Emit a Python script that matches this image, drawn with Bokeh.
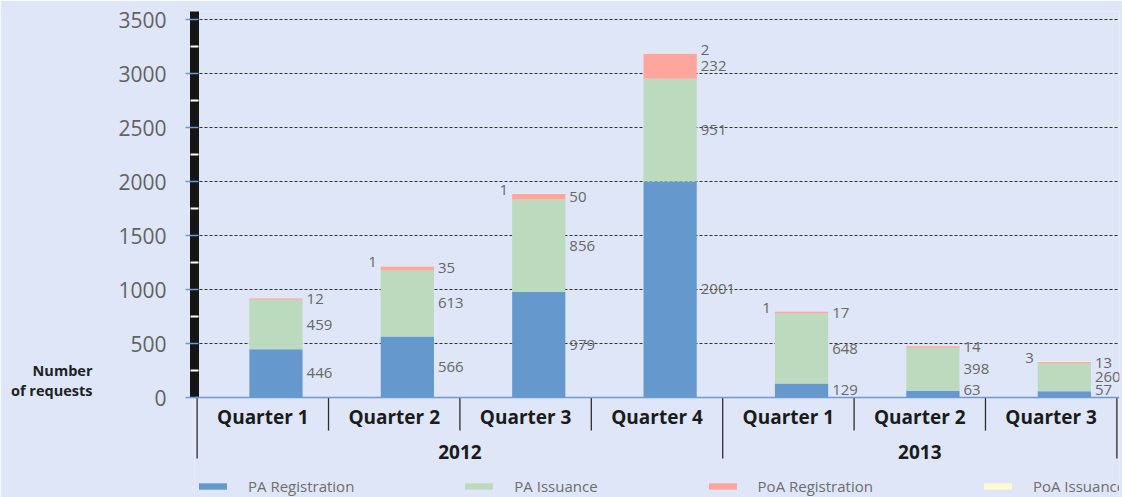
from bokeh.plotting import figure
from bokeh.models import (ColumnDataSource, FactorRange, Range1d, FixedTicker, Span)
from bokeh.transform import dodge
from bokeh.core.properties import value
from bokeh.embed import file_html
from bokeh.resources import INLINE

# ---------------- data ----------------
years = ["2012", "2013"]
quarters_2012 = ["Quarter 1", "Quarter 2", "Quarter 3", "Quarter 4"]
quarters_2013 = ["Quarter 1", "Quarter 2", "Quarter 3"]
series_names = ["PA Registration", "PA Issuance", "PoA Registration", "PoA Issuance"]
pa_registration = [446, 566, 979, 2001, 129, 63, 57]
pa_issuance = [459, 613, 856, 951, 648, 398, 260]
poa_registration = [12, 35, 50, 232, 17, 14, 13]
poa_issuance = [0, 1, 1, 2, 1, 0, 3]
y_ticks = [0, 500, 1000, 1500, 2000, 2500, 3000, 3500]
y_label_lines = ["Number", "of requests"]

# ---------------- style ----------------
BG = "#dee6f7"
colors = ["#6599ce", "#bcdbbe", "#ffa69c", "#fff8d0"]
LABEL_GRAY = "#686868"
FONT = "Open Sans"
iss_label_right = [False, False, False, True, False, False, False]

factors = [(years[0], q) for q in quarters_2012] + [(years[1], q) for q in quarters_2013]

p = figure(
    x_range=FactorRange(*factors, group_padding=0, factor_padding=0, subgroup_padding=0,
                        range_padding=0.02, range_padding_units="absolute"),
    y_range=Range1d(-926, 3575),
    width=1122, height=497, output_backend="svg", toolbar_location=None,
    x_axis_location=None, title=None,
    min_border_left=194, min_border_right=3, min_border_top=11, min_border_bottom=0,
)
p.background_fill_color = BG
p.border_fill_color = BG
p.outline_line_color = None

# y axis: thick black rule with white minor ticks
minor = [t + 250 for t in y_ticks[:-1]]
p.yaxis.ticker = FixedTicker(ticks=y_ticks, minor_ticks=minor)
p.yaxis.bounds = (0, 3575)
p.yaxis.axis_line_color = "#151515"
p.yaxis.axis_line_width = 9
p.yaxis.major_tick_line_color = "#6b9bd2"
p.yaxis.major_tick_line_width = 1.5
p.yaxis.major_tick_out = 9
p.yaxis.major_tick_in = 4
p.yaxis.minor_tick_line_color = "white"
p.yaxis.minor_tick_line_width = 2
p.yaxis.minor_tick_out = 4
p.yaxis.minor_tick_in = 4
p.yaxis.major_label_text_font = FONT
p.yaxis.major_label_text_font_size = "21px"
p.yaxis.major_label_text_color = "#626262"
p.yaxis.major_label_standoff = 19

# y axis title, pushed down to the foot of the axis with leading blank lines
p.yaxis.axis_label = "\n" * 13 + "\n".join(y_label_lines)
p.yaxis.axis_label_text_font = FONT
p.yaxis.axis_label_text_font_size = "14.5px"
p.yaxis.axis_label_text_font_style = "bold"
p.yaxis.axis_label_text_color = "#222222"
p.yaxis.axis_label_text_line_height = 1.02
p.yaxis.axis_label_standoff = 23
try:
    p.yaxis.axis_label_orientation = "horizontal"
except Exception:
    pass
p.yaxis.axis_label_text_align = "right"

p.ygrid.grid_line_color = "#333333"
p.ygrid.grid_line_dash = "3 2"
p.ygrid.grid_line_width = 1
p.xgrid.visible = False

# bars
src = ColumnDataSource(dict(x=factors, pa_reg=pa_registration, pa_iss=pa_issuance,
                            poa_reg=poa_registration, poa_iss=poa_issuance))
p.vbar_stack(["pa_reg", "pa_iss", "poa_reg", "poa_iss"],
             x=dodge("x", 0.1, range=p.x_range), width=0.405,
             fill_color=colors, line_color=None, source=src,
             legend_label=series_names)

# baseline
p.add_layout(Span(location=0, dimension="width", line_color="#6b9bd2", line_width=1.5))

# value labels
series = [pa_registration, pa_issuance, poa_registration, poa_issuance]
right = dict(x=[], y=[], t=[])
iss_r = dict(x=[], y=[], t=[])
iss_l = dict(x=[], y=[], t=[])
for j, f in enumerate(factors):
    base = 0
    for i, s in enumerate(series):
        v = s[j]
        mid = base + v / 2
        base += v
        if v == 0:
            continue
        if i < 3:
            right["x"].append(f); right["y"].append(max(mid, 70)); right["t"].append(str(v))
        else:
            d = iss_r if iss_label_right[j] else iss_l
            d["x"].append(f); d["y"].append(mid); d["t"].append(str(v))

common = dict(text_font=value(FONT), text_font_size="15px", text_color=LABEL_GRAY,
              text_baseline="middle")
p.text(x=dodge("x", 0.1 + 0.2025, range=p.x_range), y="y", text="t",
       source=ColumnDataSource(right), x_offset=4, text_align="left", **common)
p.text(x=dodge("x", 0.1 + 0.2025, range=p.x_range), y="y", text="t",
       source=ColumnDataSource(iss_r), x_offset=4, y_offset=-4, text_align="left", **common)
p.text(x=dodge("x", 0.1 - 0.2025, range=p.x_range), y="y", text="t",
       source=ColumnDataSource(iss_l), x_offset=-4, y_offset=-4, text_align="right", **common)

# category axis (drawn by hand)
p.text(x="x", y=-176, text="t",
       source=ColumnDataSource(dict(x=factors, t=[f[1] for f in factors])),
       text_font=value(FONT), text_font_size="19px", text_font_style="bold",
       text_color="#1b1b1b", text_align="center", text_baseline="middle")
p.text(x="x", y=-500, text="t", source=ColumnDataSource(dict(x=years, t=years)),
       text_font=value(FONT), text_font_size="19px", text_font_style="bold",
       text_color="#1b1b1b", text_align="center", text_baseline="middle")

q_sep = [f for j, f in enumerate(factors[:-1]) if factors[j + 1][0] == f[0]]
p.segment(x0=dodge("x", 0.5, range=p.x_range), x1=dodge("x", 0.5, range=p.x_range),
          y0=0, y1=-306, source=ColumnDataSource(dict(x=q_sep)),
          line_color="#2e2e2e", line_width=1.3)
y_start = [f for j, f in enumerate(factors) if j == 0 or factors[j - 1][0] != f[0]]
p.segment(x0=dodge("x", -0.5, range=p.x_range), x1=dodge("x", -0.5, range=p.x_range),
          y0=0, y1=-565, source=ColumnDataSource(dict(x=y_start)),
          line_color="#2e2e2e", line_width=1.3)
p.segment(x0=dodge("x", 0.5, range=p.x_range), x1=dodge("x", 0.5, range=p.x_range),
          y0=0, y1=-565, source=ColumnDataSource(dict(x=[factors[-1]])),
          line_color="#2e2e2e", line_width=1.3)

# legend
leg = p.legend[0]
leg.orientation = "horizontal"
leg.location = (1, 1)
leg.background_fill_alpha = 0
leg.border_line_alpha = 0
leg.padding = 0
leg.margin = 0
leg.spacing = 107
leg.glyph_width = 35
leg.glyph_height = 8
leg.label_standoff = 18
leg.label_height = 20
leg.label_text_font = FONT
leg.label_text_font_size = "15px"
leg.label_text_color = "#6e6e6e"

open("out.html", "w").write(file_html(p, INLINE))
